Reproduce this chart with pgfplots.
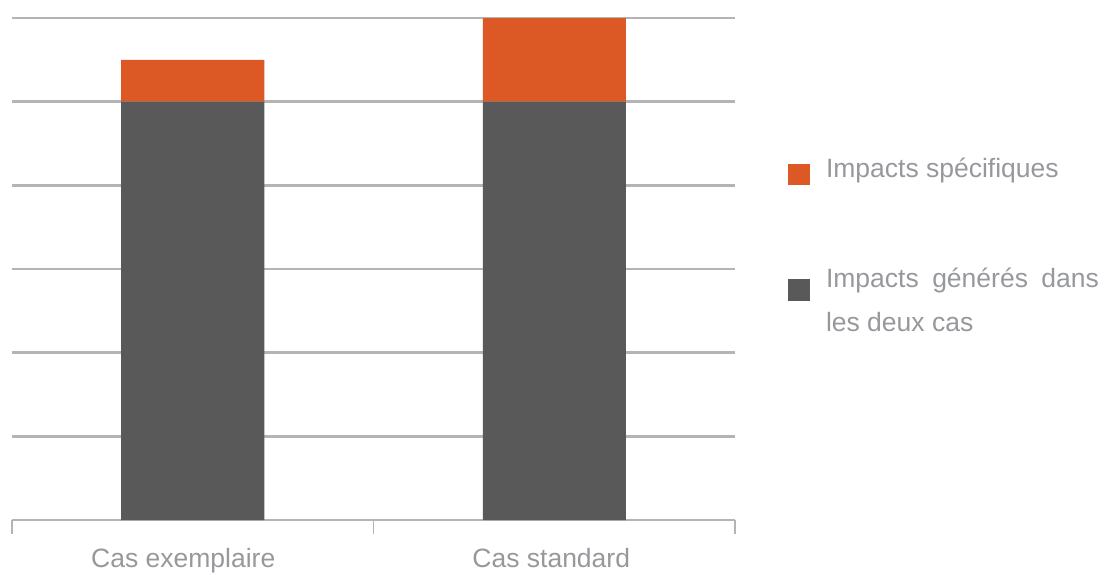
\documentclass[border=0pt]{standalone}
\usepackage{pgfplots}
\pgfplotsset{compat=1.18}
\usepackage{fontspec}
\setmainfont{Liberation Sans}
\definecolor{orangebar}{RGB}{220,89,38}
\definecolor{greybar}{RGB}{89,89,89}
\definecolor{gridgrey}{RGB}{180,180,180}
\definecolor{textgrey}{RGB}{150,152,156}
\newcommand{\legfont}{\fontsize{13.25}{22}\selectfont\hyphenpenalty=10000\relax\tolerance=10000\relax}
\begin{document}
\begin{tikzpicture}
\useasboundingbox (0,0) rectangle (552pt,287pt);
\begin{axis}[
  at={(6pt,27pt)}, anchor=south west,
  scale only axis, width=361.5pt, height=251pt,
  ybar stacked, bar width=71.5pt,
  xmin=-0.5, xmax=1.5, ymin=0, ymax=6,
  xtick={0,1}, xticklabels={Cas exemplaire\hspace*{9.5pt}, Cas standard\hspace*{3pt}},
  major x tick style={draw=none},
  xticklabel style={anchor=base, yshift=-23.5pt, font=\fontsize{13.25}{16}\selectfont, text=textgrey},
  extra x ticks={-0.5,0.5,1.5}, extra x tick labels={},
  extra x tick style={grid=none, tick align=outside, major tick length=7pt,
    major x tick style={draw=gridgrey, line width=0.8pt}},
  ytick={1,2,3,4,5,6}, yticklabels={}, major y tick style={draw=none},
  ymajorgrids, grid style={draw=gridgrey, line width=1.2pt},
  axis x line*=bottom, axis y line*=left,
  x axis line style={draw=gridgrey, line width=1.2pt, -},
  y axis line style={draw=none},
  reverse legend,
  legend style={at={(axis description cs:1.0733,0.7231)}, anchor=north west, draw=none, fill=none,
    inner sep=0pt, outer sep=0pt, row sep=41pt, column sep=8pt,
    cells={anchor=base west},
    nodes={inner sep=0pt, text depth=0pt, text height=10pt, text width=136.5pt, align=justify,
      font=\legfont, text=textgrey}},
]
\addplot+[draw=none, fill=greybar,
  legend image code/.code={\fill[greybar] (0pt,-7pt) rectangle (11pt,4pt);}]
  coordinates {(0,5) (1,5)};
\addlegendentry{Impacts générés dans\linebreak les deux cas}
\addplot+[draw=none, fill=orangebar,
  legend image code/.code={\fill[orangebar] (0pt,-4pt) rectangle (11pt,6.5pt);}]
  coordinates {(0,0.5) (1,1)};
\addlegendentry{Impacts spécifiques}
\end{axis}
\end{tikzpicture}
\end{document}
